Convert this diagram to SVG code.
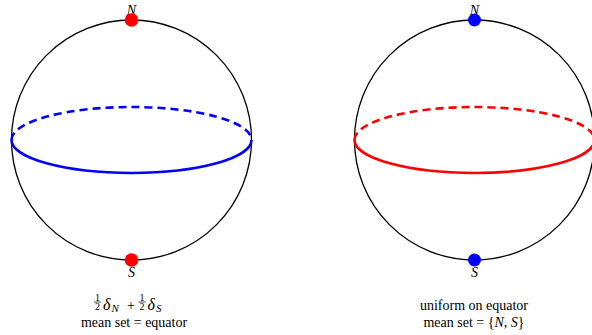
<svg xmlns="http://www.w3.org/2000/svg" width="592" height="335" viewBox="0 0 592 335">
<style>
.sph{fill:none;stroke:#000;stroke-width:1.3}
.eq{fill:none;stroke-width:2.6}
.dash{stroke-dasharray:8 5}
.lab{font-family:"Liberation Serif","DejaVu Serif",serif;font-style:italic;font-size:14px;text-anchor:middle;fill:#000}
.cap{font-family:"Liberation Serif","DejaVu Serif",serif;font-size:14px;text-anchor:middle;fill:#000}
.m{font-family:"Liberation Serif","DejaVu Serif",serif;font-style:italic;font-size:16px;fill:#000}
.sub{font-size:11px}
.it{font-style:italic}
.fr{font-family:"Liberation Serif","DejaVu Serif",serif;font-size:10px;text-anchor:middle;fill:#000}
</style>
<rect width="592" height="335" fill="#fff"/>
<g id="sphere-left">
  <circle class="sph" cx="131.5" cy="140" r="120"/>
  <path class="eq dash" stroke="#0000ff" d="M11.5 140 A120 33 0 0 1 251.5 140"/>
  <path class="eq" stroke="#0000ff" d="M11.5 140 A120 33 0 0 0 251.5 140"/>
  <text class="lab" x="131.5" y="15">N</text>
  <circle cx="131.5" cy="20" r="6.8" fill="#ff0000"/>
  <text class="lab" x="131.5" y="277">S</text>
  <circle cx="131.5" cy="260" r="6.8" fill="#ff0000"/>
</g>
<g id="sphere-right">
  <circle class="sph" cx="474.5" cy="140" r="120"/>
  <path class="eq dash" stroke="#ff0000" d="M354.5 140 A120 33 0 0 1 594.5 140"/>
  <path class="eq" stroke="#ff0000" d="M354.5 140 A120 33 0 0 0 594.5 140"/>
  <text class="lab" x="474.5" y="15">N</text>
  <circle cx="474.5" cy="20" r="6.5" fill="#0000ff"/>
  <text class="lab" x="474.5" y="277">S</text>
  <circle cx="474.5" cy="260" r="6.5" fill="#0000ff"/>
</g>
<g id="caption-left">
  <text class="fr" x="97.5" y="300.5">1</text>
  <line x1="94" y1="302" x2="101" y2="302" stroke="#000" stroke-width="0.7"/>
  <text class="fr" x="97.5" y="310">2</text>
  <text class="m" x="103" y="309.5">δ<tspan class="sub" dx="1" dy="2.5">N</tspan></text>
  <text class="cap" x="131" y="309.5">+</text>
  <text class="fr" x="142" y="300.5">1</text>
  <line x1="138.5" y1="302" x2="145.5" y2="302" stroke="#000" stroke-width="0.7"/>
  <text class="fr" x="142" y="310">2</text>
  <text class="m" x="147.5" y="309.5">δ<tspan class="sub" dx="1" dy="2.5">S</tspan></text>
  <text class="cap" x="134" y="327">mean set = equator</text>
</g>
<g id="caption-right">
  <text class="cap" x="474" y="310">uniform on equator</text>
  <text class="cap" x="474" y="327">mean set = {<tspan class="it">N</tspan>, <tspan class="it">S</tspan>}</text>
</g>
</svg>
